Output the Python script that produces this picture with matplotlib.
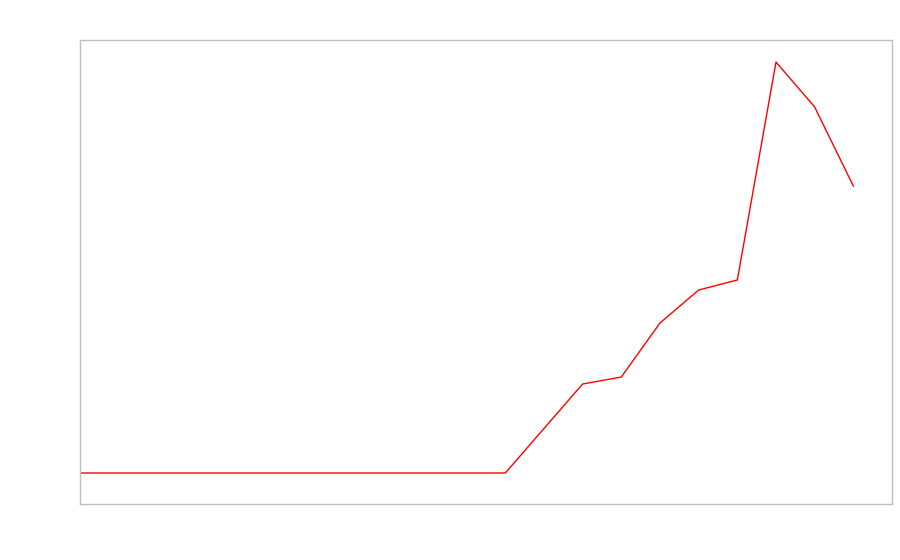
import matplotlib
matplotlib.use("Agg")
import matplotlib.pyplot as plt

# series values (arbitrary units)
steps = list(range(21))
values = [0, 0, 0, 0, 0, 0, 0, 0, 0, 0, 0, 0,
          44.5, 89, 96, 150, 183, 193, 411, 366, 287]

fig = plt.figure(figsize=(9, 5.6), dpi=100)
ax = fig.add_axes([80 / 900, 1 - 504 / 560, 812 / 900, 464 / 560])

ax.plot(steps, values, color="red", linewidth=1)

ax.set_xlim(0, 21)
ax.set_ylim(-31, 433)
ax.set_xticks([])
ax.set_yticks([])
for sp in ax.spines.values():
    sp.set_color("#bfbfbf")
    sp.set_linewidth(1)

fig.savefig("out.png", dpi=100)
